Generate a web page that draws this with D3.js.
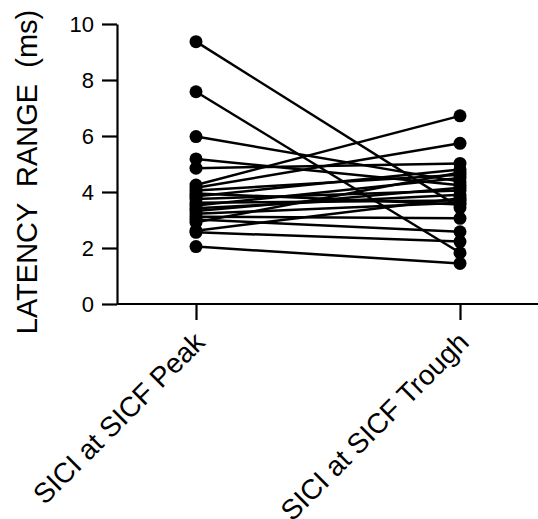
<!DOCTYPE html>
<html>
<head>
<meta charset="utf-8">
<script src="https://d3js.org/d3.v7.min.js"></script>
<style>
  body { margin: 0; background: #fff; }
  text { font-family: "Liberation Sans", Arial, sans-serif; fill: #000; }
</style>
</head>
<body>
<div id="chart"></div>
<script>
  // conditions and the paired latency ranges (ms), one entry per subject
  const conditions = ["SICI at SICF Peak", "SICI at SICF Trough"];
  const peakValues   = [9.37, 7.58, 5.98, 5.18, 4.85, 4.25, 4.15, 4.05, 3.95, 3.85, 3.75, 3.62, 3.52, 3.42, 3.32, 3.22, 3.12, 3.02, 2.92, 2.62, 2.56, 2.05];
  const troughValues = [3.44, 1.83, 4.37, 4.24, 5.02, 6.72, 5.74, 4.62, 3.55, 4.80, 4.05, 3.70, 4.50, 3.90, 4.15, 3.62, 3.06, 2.58, 4.70, 3.78, 2.23, 1.45];
  const yTicks = [0, 2, 4, 6, 8, 10];

  const width = 538, height = 519;
  const svg = d3.select("#chart").append("svg")
    .attr("width", width)
    .attr("height", height);

  const axisX = 117, axisY = 304;

  const y = d3.scaleLinear().domain([0, 10]).range([304, 24]);
  const x = d3.scalePoint().domain(conditions).range([196, 460]);

  // y axis
  const yAxis = svg.append("g")
    .attr("transform", `translate(${axisX},0)`)
    .call(d3.axisLeft(y).tickValues(yTicks).tickSize(15).tickPadding(8).tickSizeOuter(0));
  yAxis.attr("font-size", null);
  yAxis.select(".domain").attr("stroke-width", 2.2);
  yAxis.selectAll(".tick line").attr("stroke-width", 2.2);
  yAxis.selectAll(".tick text").style("font-size", "22px");

  // x axis
  const xAxis = svg.append("g")
    .attr("transform", `translate(0,${axisY})`)
    .call(d3.axisBottom(x).tickSize(16).tickSizeOuter(0));
  xAxis.attr("font-size", null);
  xAxis.select(".domain").attr("d", `M${axisX},0H${width}`).attr("stroke-width", 2.2);
  xAxis.selectAll(".tick line").attr("stroke-width", 2.2);
  xAxis.selectAll(".tick text")
    .style("font-size", "28px")
    .attr("text-anchor", "end")
    .attr("x", 0).attr("y", 0).attr("dy", 0)
    .attr("transform", "translate(10,40) rotate(-45)");

  // y label
  svg.append("text")
    .attr("transform", "translate(37,172) rotate(-90)")
    .attr("text-anchor", "middle")
    .style("font-size", "29px")
    .style("white-space", "pre")
    .text("LATENCY  RANGE  (ms)");

  const pairs = peakValues.map((v, i) => [v, troughValues[i]]);

  // paired lines
  svg.append("g").selectAll("line")
    .data(pairs)
    .join("line")
      .attr("x1", x(conditions[0]))
      .attr("x2", x(conditions[1]))
      .attr("y1", d => y(d[0]))
      .attr("y2", d => y(d[1]))
      .attr("stroke", "#000")
      .attr("stroke-width", 2.5);

  // points
  const pts = [];
  pairs.forEach(d => {
    pts.push({ c: conditions[0], v: d[0] });
    pts.push({ c: conditions[1], v: d[1] });
  });
  svg.append("g").selectAll("circle")
    .data(pts)
    .join("circle")
      .attr("cx", d => x(d.c))
      .attr("cy", d => y(d.v))
      .attr("r", 6.5)
      .attr("fill", "#000");
</script>
</body>
</html>
